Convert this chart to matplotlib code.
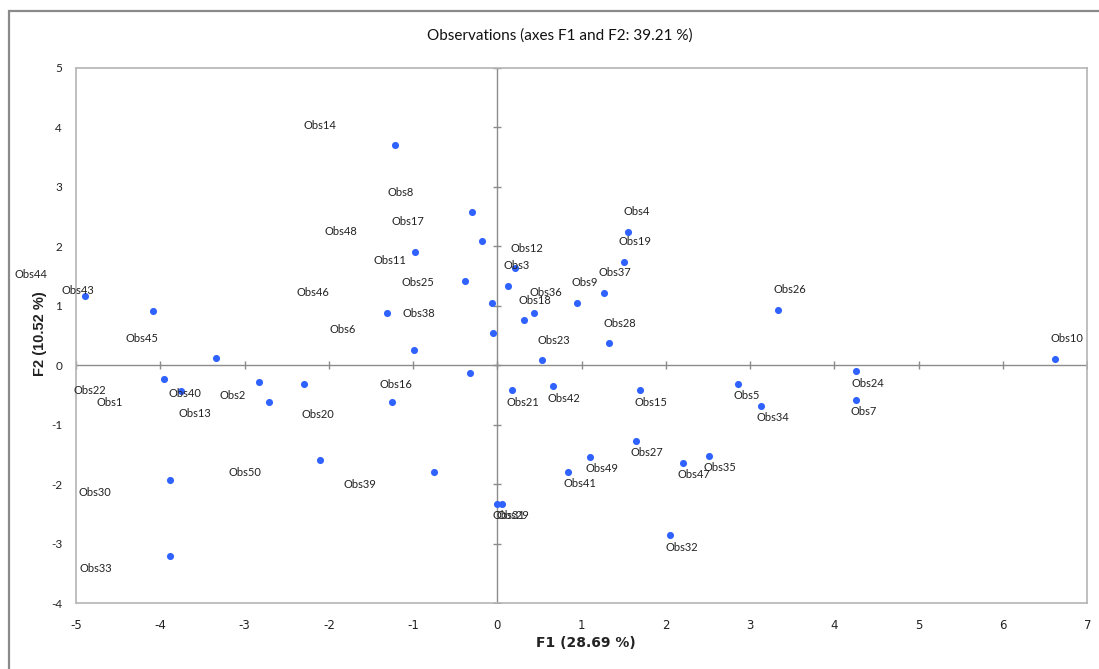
import matplotlib
matplotlib.use('Agg')
import matplotlib.pyplot as plt
from matplotlib.patches import Rectangle

# observation scores on F1 / F2
obs_names = ['Obs%d' % i for i in range(1, 51)]
f1 = [-3.76, -2.30, 0.13, 1.55, 2.86, -0.99, 4.25, -0.30, 0.94, 6.62,
      -0.39, 0.21, -2.71, -1.22, 1.69, -0.32, -0.18, 0.31, 1.50, -1.25,
      0.17, -3.95, 0.53, 4.26, -0.06, 3.33, 1.64, 1.32, 0.05, -3.89,
      0.00, 2.05, -3.88, 3.13, 2.51, 0.44, 1.26, -0.05, -0.75, -2.83,
      0.84, 0.66, -4.09, -4.89, -3.34, -1.31, 2.20, -0.98, 1.10, -2.11]
f2 = [-0.43, -0.31, 1.34, 2.24, -0.31, 0.26, -0.58, 2.57, 1.05, 0.11,
      1.42, 1.63, -0.61, 3.70, -0.42, -0.13, 2.08, 0.76, 1.74, -0.62,
      -0.42, -0.23, 0.08, -0.10, 1.05, 0.93, -1.27, 0.37, -2.33, -1.93,
      -2.33, -2.86, -3.21, -0.68, -1.52, 0.88, 1.22, 0.54, -1.80, -0.28,
      -1.79, -0.35, 0.92, 1.17, 0.12, 0.88, -1.64, 1.91, -1.54, -1.60]

xticks = list(range(-5, 8))
yticks = list(range(-4, 6))

title = 'Observations (axes F1 and F2: 39.21 %)'
xlabel = 'F1 (28.69 %)'
ylabel = 'F2 (10.52 %)'

# label placement overrides (pixels), label hits the left border otherwise
label_override = {'Obs44': (-71, 21, 'left')}

plt.rcParams['axes.unicode_minus'] = False

W, H = 1099, 669
fig = plt.figure(figsize=(W / 100, H / 100), dpi=100)
fig.patch.set_facecolor('white')

# outer chart border
fig.patches.append(Rectangle((8.7 / W, -0.2), 1.2, 1.2 - 11 / H,
                             transform=fig.transFigure, fill=False,
                             edgecolor='#8a8a8a', lw=1.6))

ax = fig.add_axes([76 / W, 1 - 603.3 / H, (1087.3 - 76) / W, (603.3 - 67.7) / H])
ax.set_xlim(-5, 7)
ax.set_ylim(-4, 5)
for s in ax.spines.values():
    s.set_color('#b4b4b4')
    s.set_linewidth(1.2)

grey = '#8c8c8c'
ax.axhline(0, color=grey, lw=1, zorder=1)
ax.axvline(0, color=grey, lw=1, zorder=1)
ax.plot(xticks, [0] * len(xticks), ls='none', marker='|', ms=6, mew=1, color=grey, zorder=1)
ax.plot([0] * len(yticks), yticks, ls='none', marker='_', ms=6, mew=1, color=grey, zorder=1)

ax.set_xticks(xticks)
ax.set_yticks(yticks)
ax.tick_params(length=0, labelsize=8.5, colors='#222222')
ax.tick_params(axis='x', pad=11)
ax.tick_params(axis='y', pad=10)
for t in ax.get_xticklabels():
    t.set_family(['Liberation Sans Narrow', 'DejaVu Sans'])
for t in ax.get_yticklabels():
    t.set_family(['Lato', 'DejaVu Sans'])

ax.scatter(f1, f2, s=26, color='#2f62ff', zorder=3, linewidths=0)

for name, x, y in zip(obs_names, f1, f2):
    if name in label_override:
        dx, dy, ha = label_override[name]
    else:
        dy = 20 if y > 0 else -12
        if x < 0:
            dx, ha = -58, 'right'
        else:
            dx, ha = -5, 'left'
    ax.annotate(name, (x, y), xytext=(dx, dy), textcoords='offset pixels',
                ha=ha, va='center', fontsize=8, color='#222222',
                family=['Lato', 'DejaVu Sans'], annotation_clip=False, zorder=4)

fig.text(560 / W, 1 - 35.7 / H, title, ha='center', va='center', fontsize=11,
         family=['Lato', 'DejaVu Sans'], color='#111111')
fig.text(586 / W, 1 - 643 / H, xlabel, ha='center', va='center', fontsize=10,
         family=['Liberation Sans Narrow', 'DejaVu Sans'], weight='bold', color='#222222')
fig.text(40 / W, 1 - 334 / H, ylabel, ha='center', va='center', rotation=90,
         fontsize=10.5, family=['Liberation Sans', 'DejaVu Sans'], weight='bold', color='#222222')

fig.savefig('out.png', dpi=100)
